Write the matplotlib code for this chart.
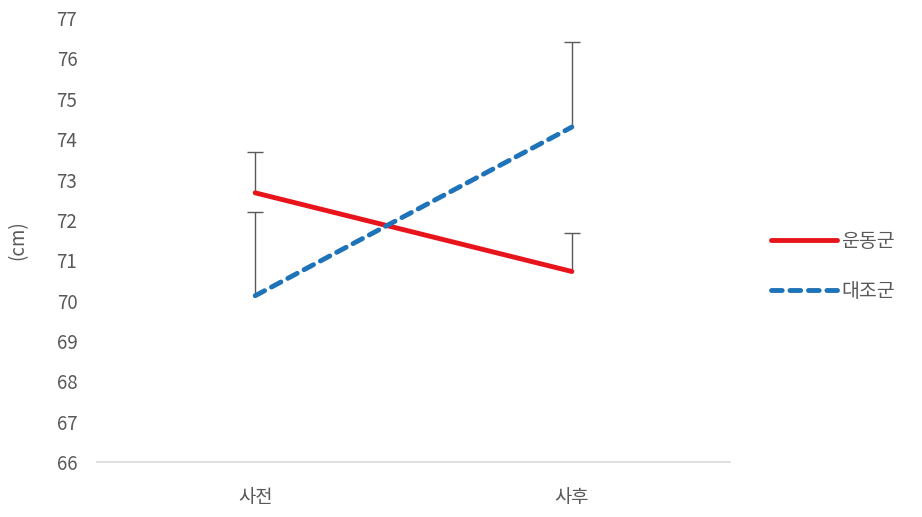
import numpy as np
import matplotlib.pyplot as plt

plt.rcParams['font.family'] = ['Noto Sans CJK KR', 'DejaVu Sans']

categories = ['사전', '사후']
series_names = ['운동군', '대조군']
exercise = [72.67, 70.72]
exercise_err = [1.0, 0.95]
control = [70.12, 74.3]
control_err = [2.08, 2.1]

fig = plt.figure(figsize=(9.22, 5.17), dpi=100)
ax = fig.add_axes([0.105, 0.1064, 0.687, 0.8586])

x = np.arange(len(categories))
err_style = dict(fmt='none', ecolor='#595959', elinewidth=1, capsize=6, capthick=1)

for vals, errs in [(exercise, exercise_err), (control, control_err)]:
    eb = ax.errorbar(x, vals, yerr=[np.zeros(2), errs], **err_style, zorder=1)
    # only plus-direction bars: hide the lower caps
    eb[1][0].set_visible(False)

ax.plot(x, exercise, color='#e8141b', lw=3.5, label=series_names[0], zorder=3,
        solid_capstyle='round')
ax.plot(x, control, color='#1f73b8', lw=3.5, ls=(0, (2.2, 1.6)), label=series_names[1],
        zorder=3, dash_capstyle='round')

ax.set_xlim(-0.5, 1.5)
ax.set_ylim(66, 77)
ax.set_yticks(np.arange(66, 78, 1))
ax.set_xticks(x)
ax.set_xticklabels(categories)
ax.tick_params(axis='both', length=0, labelsize=13.5, colors='#595959')
ax.tick_params(axis='x', pad=18)
ax.tick_params(axis='y', pad=14)
for s in ['top', 'right', 'left']:
    ax.spines[s].set_visible(False)
ax.spines['bottom'].set_color('#d9d9d9')
ax.spines['bottom'].set_linewidth(1.2)

ax.set_ylabel('(cm)', fontsize=13.5, color='#595959', labelpad=20)

leg = ax.legend(loc='center left', bbox_to_anchor=(1.037, 0.44), frameon=False,
                fontsize=14, handlelength=3.4, handletextpad=0.2, labelspacing=1.5)
for t in leg.get_texts():
    t.set_color('#595959')

plt.savefig('out.png', dpi=100)
